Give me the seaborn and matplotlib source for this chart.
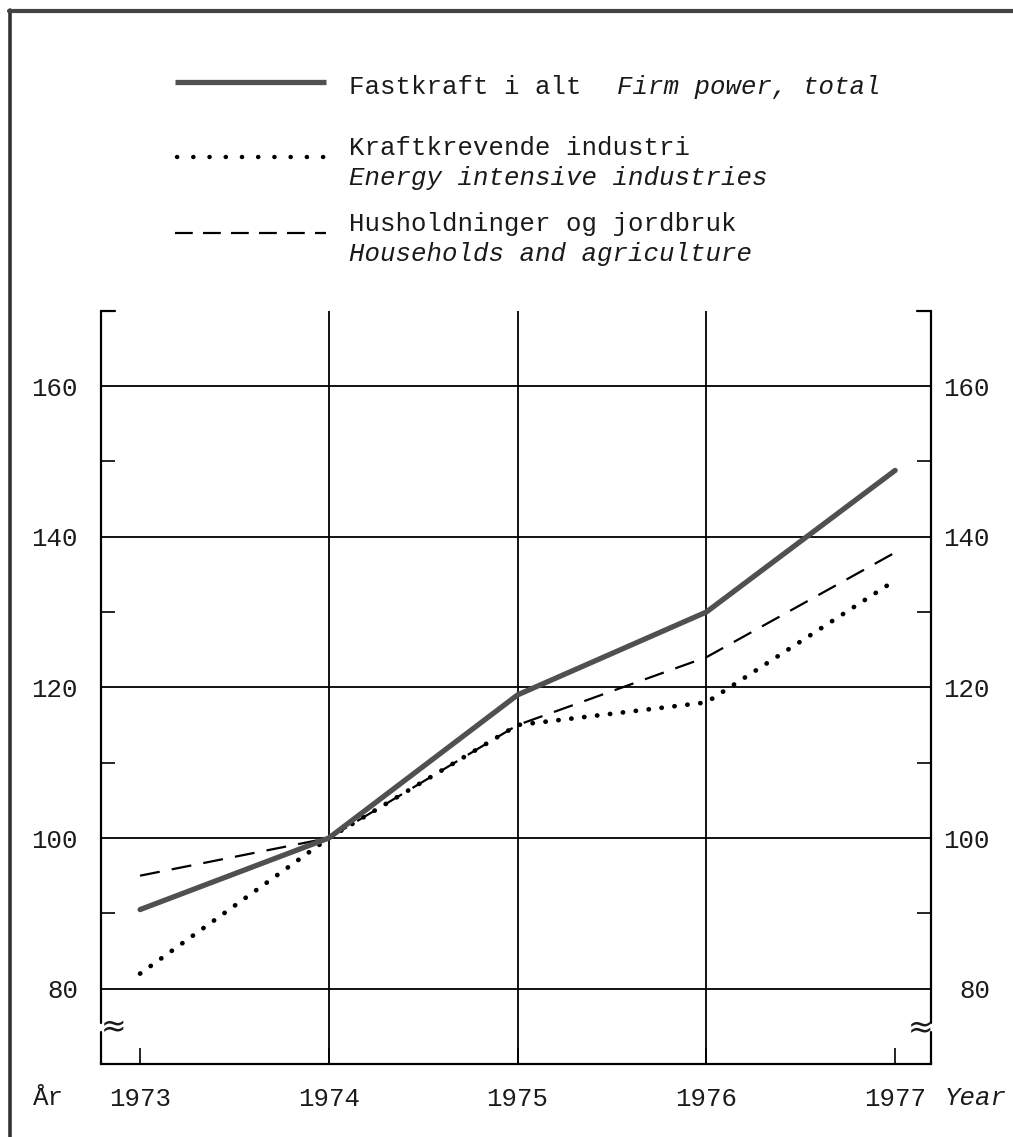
import matplotlib
matplotlib.use("Agg")
import matplotlib.pyplot as plt
from matplotlib.lines import Line2D
from matplotlib.transforms import ScaledTranslation
import seaborn as sns
import pandas as pd

years = [1973, 1974, 1975, 1976, 1977]
firm_power = [90.5, 100, 119, 130, 148.8]
energy_intensive = [82, 100, 115, 118, 134.2]
households = [95, 100, 115, 124, 137.9]
series_names = ["Fastkraft i alt", "Kraftkrevende industri", "Husholdninger og jordbruk"]
y_major = [80, 100, 120, 140, 160]
y_minor = [90, 110, 130, 150]

sns.set_theme(style="white")
plt.rcParams['font.family'] = ['Liberation Mono', 'DejaVu Sans Mono', 'DejaVu Sans']

W, H = 1013, 1137
fig = plt.figure(figsize=(W / 100, H / 100), dpi=100)
fig.patch.set_facecolor("white")

def fx(x):
    return x / W

def fy(y):
    return 1 - y / H

ax = fig.add_axes([fx(101), fy(1064), fx(931) - fx(101), fy(310.7) - fy(1064)])
ax.set_facecolor("white")

df = pd.DataFrame({
    "year": years * 3,
    "value": firm_power + energy_intensive + households,
    "series": [series_names[0]] * 5 + [series_names[1]] * 5 + [series_names[2]] * 5,
})

XMIN, XMAX = 1972.793, 1977.19
YMIN, YMAX = 70, 170
ax.set_xlim(XMIN, XMAX)
ax.set_ylim(YMIN, YMAX)

TXT = "#1a1a1a"
FS = 18.5

# grid lines
for v in y_major:
    ax.axhline(v, color="black", lw=1.3, zorder=1)
for yr in years[1:-1]:
    ax.axvline(yr, color="black", lw=1.3, zorder=1)

# series
sns.lineplot(data=df[df.series == series_names[0]], x="year", y="value", ax=ax,
             color="#505050", lw=3.8, solid_capstyle="round", legend=False, zorder=4)
sns.lineplot(data=df[df.series == series_names[1]], x="year", y="value", ax=ax,
             color="black", lw=3.4, linestyle=(0, (0.05, 2.7)), dash_capstyle="round",
             legend=False, zorder=3)
sns.lineplot(data=df[df.series == series_names[2]], x="year", y="value", ax=ax,
             color="black", lw=1.6, linestyle=(0, (9, 5.5)), legend=False, zorder=3)

# spines
for s in ["top", "left", "right"]:
    ax.spines[s].set_visible(False)
ax.spines["bottom"].set_color("black")
ax.spines["bottom"].set_linewidth(1.6)

# left and right axis lines with break
for xv in [XMIN, XMAX]:
    ax.plot([xv, xv], [75.5, YMAX], color="black", lw=1.6, clip_on=False, zorder=5)
    ax.plot([xv, xv], [YMIN, 74.2], color="black", lw=1.6, clip_on=False, zorder=5)
# top corner brackets
ax.plot([XMIN, XMIN + 0.075], [YMAX, YMAX], color="black", lw=1.6, clip_on=False)
ax.plot([XMAX - 0.075, XMAX], [YMAX, YMAX], color="black", lw=1.6, clip_on=False)

# break symbols
fig.text(fx(114), fy(1028), "≈", fontsize=22, ha="center", va="center",
         family=['DejaVu Sans'], color=TXT)
fig.text(fx(921), fy(1029), "≈", fontsize=22, ha="center", va="center",
         family=['DejaVu Sans'], color=TXT)

# ticks
ax.set_xticks(years)
ax.set_xticklabels([str(y) for y in years])
ax.tick_params(axis="x", direction="in", length=11.5, width=1.2, color="black",
               pad=16.5, labelsize=FS, bottom=True, top=False)
ax.set_yticks(y_major)
ax.set_yticklabels([str(v) for v in y_major])
ax.set_yticks(y_minor, minor=True)
ax.tick_params(axis="y", which="major", length=0, labelsize=FS, pad=16.5,
               left=True, right=True, labelleft=True, labelright=True)
ax.tick_params(axis="y", which="minor", direction="in", length=10, width=1.2,
               color="black", left=True, right=True)
# right labels: right-aligned, ending near x=990
for t in ax.yaxis.get_major_ticks():
    t.label2.set_horizontalalignment("right")
    t.label2.set_transform(ax.get_yaxis_transform(which="tick2")
                           + ScaledTranslation(59 / 100, 0, fig.dpi_scale_trans))
    t.label1.set_color(TXT)
    t.label2.set_color(TXT)
for lab in ax.get_xticklabels():
    lab.set_color(TXT)
ax.set_xlabel("")
ax.set_ylabel("")

fig.text(fx(33), fy(1098), "År", fontsize=FS, ha="left", va="center", color=TXT)
fig.text(fx(945), fy(1098), "Year", fontsize=FS, style="italic", ha="left", va="center",
         color=TXT)

# legend (manual)
fig.add_artist(Line2D([fx(175), fx(326)], [fy(82), fy(82)], color="#505050", lw=3.8,
                      solid_capstyle="butt"))
fig.add_artist(Line2D([fx(177), fx(330)], [fy(157), fy(157)], color="black", lw=3.2,
                      linestyle=(0, (0.05, 3.6)), dash_capstyle="round"))
fig.add_artist(Line2D([fx(175), fx(326)], [fy(233), fy(233)], color="black", lw=1.6,
                      linestyle=(0, (8, 4.6))))

fig.text(fx(349), fy(87), "Fastkraft i alt", fontsize=FS, va="center", color=TXT)
fig.text(fx(617), fy(87), "Firm power, total", fontsize=FS, va="center",
         style="italic", color=TXT)
fig.text(fx(349), fy(148), "Kraftkrevende industri", fontsize=FS, va="center", color=TXT)
fig.text(fx(349), fy(178), "Energy intensive industries", fontsize=FS, va="center",
         style="italic", color=TXT)
fig.text(fx(349), fy(224), "Husholdninger og jordbruk", fontsize=FS, va="center", color=TXT)
fig.text(fx(349), fy(254), "Households and agriculture", fontsize=FS, va="center",
         style="italic", color=TXT)

# page frame
fig.add_artist(Line2D([fx(10), fx(10)], [fy(10), 0], color="#333333", lw=2.6))
fig.add_artist(Line2D([fx(9), 1], [fy(11), fy(11)], color="#444444", lw=3))

fig.savefig("out.png", dpi=100, facecolor="white")
